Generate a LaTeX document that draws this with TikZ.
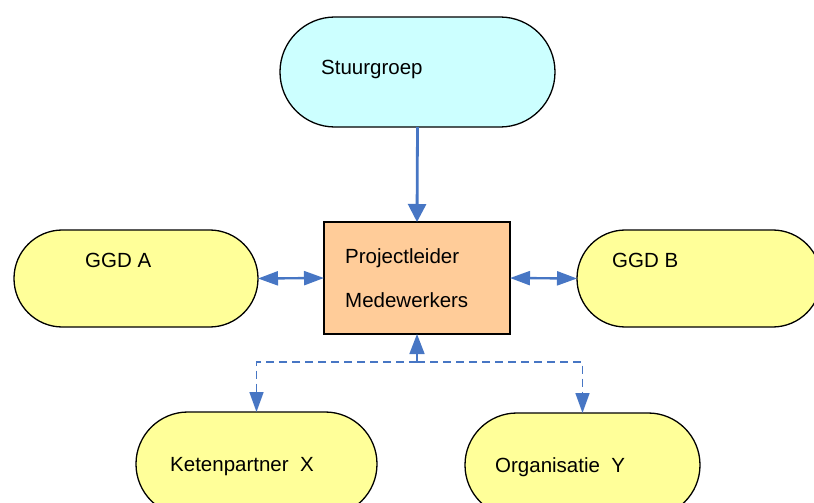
\documentclass[tikz,border=0pt]{standalone}
\usepackage{fontspec}
\setmainfont{Liberation Sans}
\usetikzlibrary{arrows.meta}
\definecolor{cyanfill}{RGB}{204,255,255}
\definecolor{yellowfill}{RGB}{255,255,153}
\definecolor{orangefill}{RGB}{255,204,153}
\definecolor{connblue}{RGB}{71,118,196}
\begin{document}
\begin{tikzpicture}[x=1pt,y=-1pt,
  pill/.style={draw=black, line width=1.3pt, inner sep=0pt, outer sep=0pt},
  boxnode/.style={draw=black, line width=1.2pt, fill=orangefill, inner sep=0pt, outer sep=0pt, minimum width=186pt, minimum height=112pt},
  txt/.style={anchor=west, inner sep=0pt, font=\fontsize{20.5}{24}\selectfont},
  conn/.style={draw=connblue, line width=2.8pt},
  dconn/.style={draw=connblue, line width=1.6pt, dash pattern=on 8pt off 5pt},
  tipbig/.style={},
]
\useasboundingbox (0,0) rectangle (814,503);
\clip (0,0) rectangle (814,503);

\node[pill, fill=cyanfill, minimum width=275pt, minimum height=110pt, rounded corners=54.9pt] (stuur) at (417.5,72) {};
\node[pill, fill=yellowfill, minimum width=244pt, minimum height=97pt, rounded corners=48.4pt] (ggda) at (136,278.5) {};
\node[pill, fill=yellowfill, minimum width=244pt, minimum height=97pt, rounded corners=48.4pt] (ggdb) at (699,278.5) {};
\node[boxnode] (pl) at (417,278) {};
\node[pill, fill=yellowfill, minimum width=241pt, minimum height=104pt, rounded corners=51.9pt] (ketx) at (256.5,464) {};
\node[pill, fill=yellowfill, minimum width=235pt, minimum height=104pt, rounded corners=51.9pt] (orgy) at (582.5,465) {};

\node[txt] (tstuur) at (321,69) {Stuurgroep};
\node[txt] (tggda) at (85,260) {GGD A};
\node[txt] (tggdb) at (612,260) {GGD B};
\node[txt] (tpl) at (345,258) {Projectleider};
\node[txt] (tmw) at (345,300) {Medewerkers};
\node[txt] (tketx) at (170,467) {Ketenpartner\ \ X};
\node[txt] (torgy) at (495,467) {Organisatie\ \ Y};

\draw[conn, -{Triangle[width=18pt,length=18pt]}] (stuur.south) -- (pl.north);
\draw[conn, line width=2.4pt, {Triangle[width=14pt,length=20pt]}-{Triangle[width=14pt,length=20pt]}] (ggda.east) -- (pl.west);
\draw[conn, line width=2.4pt, {Triangle[width=14pt,length=20pt]}-{Triangle[width=14pt,length=20pt]}] (pl.east) -- (ggdb.west);

\coordinate (j) at (417,362);
\draw[dconn, -{Triangle[width=15pt,length=20pt]}] (j) -- (pl.south);
\draw[dconn, -{Triangle[width=14pt,length=20pt]}] (j) -| (ketx.north);
\draw[dconn, -{Triangle[width=14pt,length=20pt]}] (j) -| (orgy.north);
\end{tikzpicture}
\end{document}
